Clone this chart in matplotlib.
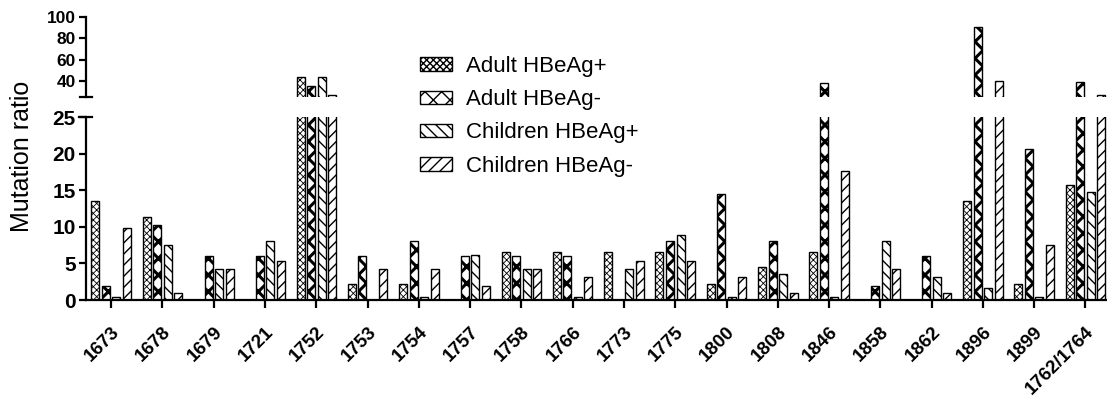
import matplotlib
matplotlib.use("Agg")
import matplotlib.pyplot as plt
import numpy as np

plt.rcParams["font.family"] = ["Liberation Sans", "DejaVu Sans"]

positions = ["1673", "1678", "1679", "1721", "1752", "1753", "1754", "1757",
             "1758", "1766", "1773", "1775", "1800", "1808", "1846", "1858",
             "1862", "1896", "1899", "1762/1764"]
adult_pos = [13.6, 11.3, 0, 0, 43.8, 2.2, 2.2, 0, 6.6, 6.6,
             6.6, 6.6, 2.2, 4.5, 6.6, 0, 0, 13.6, 2.2, 15.7]
adult_neg = [1.9, 10.3, 6.0, 6.0, 35.3, 6.0, 8.1, 6.0, 6.0, 6.0,
             0, 8.1, 14.5, 8.1, 38.0, 1.9, 6.0, 91.2, 20.7, 39.4]
child_pos = [0.4, 7.5, 4.2, 8.1, 43.8, 0, 0.4, 6.1, 4.2, 0.4,
             4.2, 8.9, 0.4, 3.6, 0.4, 8.1, 3.1, 1.7, 0.4, 14.8]
child_neg = [9.9, 1.0, 4.2, 5.4, 26.6, 4.2, 4.2, 1.9, 4.2, 3.1,
             5.4, 5.4, 3.1, 1.0, 17.6, 4.2, 1.0, 40.3, 7.5, 26.6]
series = [("Adult HBeAg+", adult_pos, "xxxxx", 0.6),
          ("Adult HBeAg-", adult_neg, "xx", 2.2),
          ("Children HBeAg+", child_pos, "\\\\\\", 1.0),
          ("Children HBeAg-", child_neg, "///", 1.0)]

fig = plt.figure(figsize=(11.07, 4.0), dpi=100)
left, width = 0.0773, 1 - 0.0773
ax_lo = fig.add_axes([left, 0.25, width, 0.457])
ax_hi = fig.add_axes([left, 0.758, width, 0.199])

x = np.arange(len(positions))
step, bw = 0.205, 0.156
handles = []
for k, (name, vals, hatch, hlw) in enumerate(series):
    plt.rcParams["hatch.linewidth"] = hlw
    for ax in (ax_lo, ax_hi):
        bars = ax.bar(x + (k - 1.5) * step, vals, bw, color="white",
                      edgecolor="black", linewidth=1.0, hatch=hatch, label=name)
        for b in bars:
            if hasattr(b, "set_hatch_linewidth"):
                b.set_hatch_linewidth(hlw)
    handles.append(bars)

for ax in (ax_lo, ax_hi):
    ax.set_xlim(-0.5, 19.42)
    ax.spines["right"].set_visible(False)
    ax.spines["top"].set_visible(False)
    ax.spines["left"].set_linewidth(1.6)
    ax.tick_params(axis="y", direction="out", length=5, width=1.6, pad=2)

ax_lo.set_ylim(0, 25)
ax_lo.set_yticks([0, 5, 10, 15, 20, 25])
ax_lo.set_yticklabels([0, 5, 10, 15, 20, 25], fontweight="bold", fontsize=15)
ax_lo.spines["bottom"].set_linewidth(1.6)
ax_lo.set_xticks(x)
ax_lo.set_xticklabels(positions, rotation=45, ha="right", rotation_mode="anchor",
                      fontweight="bold", fontsize=13.5)
ax_lo.tick_params(axis="x", direction="out", length=6, width=1.6, pad=11)
ax_lo.plot([-0.006, 0.006], [1, 1], transform=ax_lo.transAxes, color="black",
           lw=1.6, clip_on=False)

ax_hi.set_ylim(25, 100)
ax_hi.set_yticks([40, 60, 80, 100])
ax_hi.set_yticklabels([40, 60, 80, 100], fontweight="bold", fontsize=12.5)
ax_hi.spines["bottom"].set_visible(False)
ax_hi.set_xticks([])
ax_hi.plot([-0.005, 0.006], [0, 0], transform=ax_hi.transAxes, color="black",
           lw=1.6, clip_on=False)

fig.text(0.02, 0.61, "Mutation ratio", rotation=90, ha="center", va="center",
         fontsize=18)

fig.legend(handles=handles, labels=[s[0] for s in series], loc="upper left",
           bbox_to_anchor=(0.379, 0.86), frameon=False, fontsize=16,
           borderpad=0, borderaxespad=0, handlelength=1.45, handleheight=0.55,
           handletextpad=0.65, labelspacing=0.55)

fig.savefig("out.png", dpi=100)
